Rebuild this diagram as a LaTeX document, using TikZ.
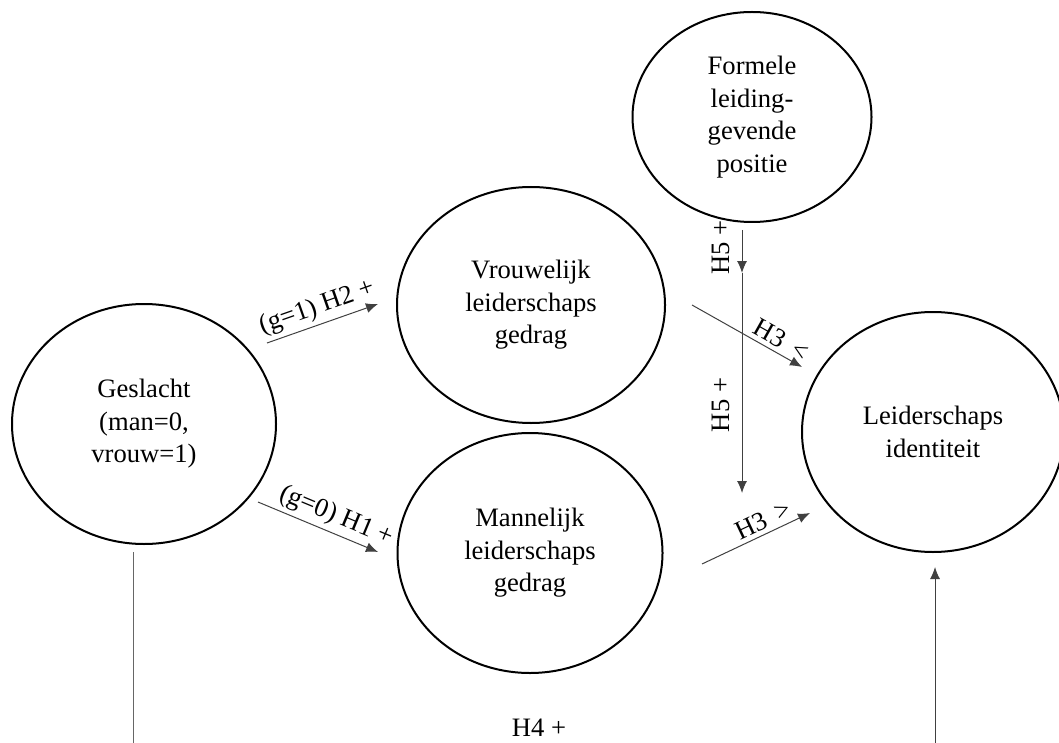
\documentclass[tikz,border=0pt]{standalone}
\usepackage{fontspec}
\setmainfont{Liberation Serif}
\usetikzlibrary{arrows.meta,shapes.geometric}
\tikzstyle{variabele}=[ellipse,draw=black,line width=1pt,align=center,inner sep=0pt,font=\fontsize{13.3}{16.3}\selectfont]
\tikzstyle{pijl}=[-{Latex[length=6pt,width=5pt]},draw=black!75,line width=.5pt]
\tikzstyle{lijn}=[draw=black!60,line width=.5pt]
\tikzstyle{hyp}=[font=\fontsize{13.3}{16}\selectfont,inner sep=2pt]

\begin{document}
\begin{tikzpicture}[x=.5pt,y=-.5pt]
	\useasboundingbox (0,0) rectangle (1059,743);
	% variabelen
	\node[variabele,minimum width=132pt,minimum height=120pt] (geslacht) at (144,424) {Geslacht\\(man=0,\\vrouw=1)};
	\node[variabele,minimum width=134pt,minimum height=118pt] (vrouw) at (531,305) {Vrouwelijk\\leiderschaps\\gedrag};
	\node[variabele,minimum width=132.5pt,minimum height=120pt] (man) at (530,553) {Mannelijk\\leiderschaps\\gedrag};
	\node[variabele,minimum width=119.5pt,minimum height=105pt] (formeel) at (752,117) {Formele\\leiding-\\gevende\\positie};
	\node[variabele,minimum width=131pt,minimum height=120pt] (identiteit) at (933,432) {Leiderschaps\\identiteit};
	% uiteinden van de pijlen
	\coordinate (h2a) at (267,343);
	\coordinate (h2b) at (378,304);
	\coordinate (h1a) at (258,502);
	\coordinate (h1b) at (378,552);
	\coordinate (h3a) at (692,305);
	\coordinate (h3b) at (802,367);
	\coordinate (h3c) at (702,564);
	\coordinate (h3d) at (810,513);
	\coordinate (h5a) at (742,230);
	\coordinate (h5b) at (742,273);
	\coordinate (h5c) at (742,493);
	\coordinate (h4a) at (133,552);
	\coordinate (h4b) at (133,743);
	\coordinate (h4c) at (935,743);
	\coordinate (h4d) at (935,567);
	% pijlen
	\draw[pijl] (h2a) -- node[hyp,midway,above,sloped] (lh2) {(g=1) H2 +} (h2b);
	\draw[pijl] (h1a) -- node[hyp,pos=.6,above,sloped] (lh1) {(g=0) H1 +} (h1b);
	\draw[pijl] (h3a) -- node[hyp,pos=.75,above,sloped] (lh3a) {H3 \,<} (h3b);
	\draw[pijl] (h3c) -- node[hyp,pos=.62,above,sloped] (lh3b) {H3 \,>} (h3d);
	\draw[pijl] (h5a) -- node[hyp,pos=.4,rotate=90,anchor=south,inner sep=6pt] (lh5a) {H5 +} (h5b);
	\draw[pijl] (h5b) -- node[hyp,pos=.6,rotate=90,anchor=south,inner sep=6pt] (lh5b) {H5 +} (h5c);
	\draw[lijn] (h4a) -- (h4b);
	\draw[pijl] (h4c) -- (h4d);
	\node[hyp] (lh4) at (539,728) {H4 +};
\end{tikzpicture}
\end{document}
